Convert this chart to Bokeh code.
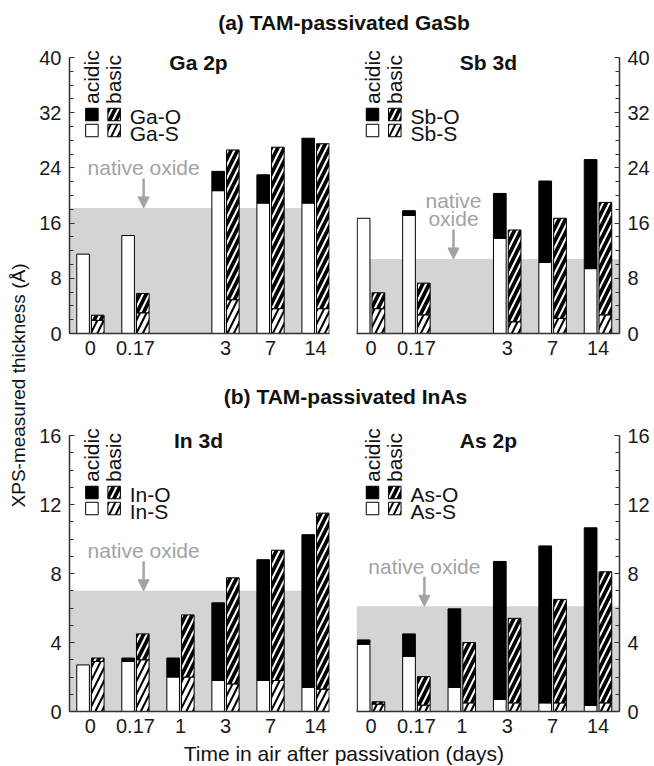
import math
from bokeh.plotting import figure
from bokeh.layouts import row, column
from bokeh.models import Range1d, FixedTicker, SingleIntervalTicker, Arrow, NormalHead
from bokeh.core.properties import value
from bokeh.embed import file_html
from bokeh.resources import INLINE

FONT = "Liberation Sans"
AXIS_COLOR = "#333333"
BAND_COLOR = "#d4d4d4"
NOTE_COLOR = "#a3a3a3"

# ---------------- data ----------------
days_inas = ["0", "0.17", "1", "3", "7", "14"]
days_gasb = ["0", "0.17", "3", "7", "14"]

# (a) GaSb, Ga 2p  (thickness in Angstrom)
ga_sulfide_acidic = [11.5, 14.2, 20.7, 18.9, 18.9]
ga_oxide_acidic = [0.0, 0.0, 2.8, 4.1, 9.4]
ga_sulfide_basic = [1.9, 3.0, 4.9, 3.6, 3.6]
ga_oxide_basic = [0.75, 2.8, 21.7, 23.4, 23.9]

# (a) GaSb, Sb 3d
sb_sulfide_acidic = [16.7, 17.1, 13.8, 10.3, 9.4]
sb_oxide_acidic = [0.0, 0.7, 6.5, 11.8, 15.8]
sb_sulfide_basic = [3.6, 2.7, 1.7, 2.2, 2.7]
sb_oxide_basic = [2.3, 4.6, 13.3, 14.5, 16.3]

# (b) InAs, In 3d
in_sulfide_acidic = [2.7, 2.9, 2.0, 1.8, 1.8, 1.4]
in_oxide_acidic = [0.0, 0.2, 1.1, 4.5, 7.0, 8.85]
in_sulfide_basic = [2.9, 3.0, 2.0, 1.6, 1.8, 1.3]
in_oxide_basic = [0.2, 1.5, 3.6, 6.15, 7.55, 10.2]

# (b) InAs, As 2p
as_sulfide_acidic = [3.9, 3.2, 1.4, 0.7, 0.5, 0.35]
as_oxide_acidic = [0.25, 1.3, 4.55, 8.0, 9.1, 10.3]
as_sulfide_basic = [0.43, 0.37, 0.5, 0.5, 0.5, 0.5]
as_oxide_basic = [0.13, 1.65, 3.5, 4.9, 6.0, 7.6]

# native oxide thickness of untreated surfaces
native_oxide = {"Ga": 18.2, "Sb": 10.8, "In": 7.0, "As": 6.1}

y_max_gasb, y_step_gasb = 40, 8
y_max_inas, y_step_inas = 16, 4

# ---------------- layout (pixels) ----------------
YLAB_W = 36
LEFT_W, RIGHT_W = 304, 313
COL_W = LEFT_W + RIGHT_W
TITLE_A_H, TOP_H, TITLE_B_H, BOT_H, XLAB_H = 44, 324, 50, 322, 25
TOTAL_H = TITLE_A_H + TOP_H + TITLE_B_H + BOT_H + XLAB_H
AXIS_SPAN_PX = 276.0       # pixels between 0 and the top tick

BAR_W = 0.28
BAR_OFF = 0.163
HATCH_SCALE = 13
HATCH_W = 2.0


def txt(p, x, y, s, size, color="#111111", bold=False, align="left", angle=0.0):
    p.text(x=[x], y=[y], text=[s], text_font=value(FONT),
           text_font_size=f"{size}px", text_color=color,
           text_font_style="bold" if bold else "normal",
           text_align=align, text_baseline="middle", angle=angle)


def blank(width, height):
    p = figure(width=width, height=height, x_range=Range1d(0, width),
               y_range=Range1d(0, height), x_axis_type=None, y_axis_type=None,
               toolbar_location=None, output_backend="svg",
               min_border=0, outline_line_color=None)
    p.grid.visible = False
    return p


def panel(side, days, ymax, step, s_ac, o_ac, s_ba, o_ba, element,
          native, height, band_stop=None, note_two_lines=False, title_dx=108.5):
    if side == "left":
        width, mbl, mbr, frame_w, slot0_px, ppx = LEFT_W, 32, 11, 261, 21.0, 45.2
    else:
        width, mbl, mbr, frame_w, slot0_px, ppx = RIGHT_W, 16, 34, 263, 14.5, 45.4
    bottom_border = 35 if height == TOP_H else 29
    frame_h = height - bottom_border
    x0 = -slot0_px / ppx
    x1 = x0 + frame_w / ppx
    ppu = AXIS_SPAN_PX / ymax
    y1 = frame_h / ppu
    p = figure(width=width, height=height, x_range=Range1d(x0, x1),
               y_range=Range1d(0, y1), y_axis_location=side,
               toolbar_location=None, output_backend="svg",
               min_border_left=mbl, min_border_right=mbr,
               min_border_top=0, min_border_bottom=bottom_border,
               outline_line_color=None)
    p.xgrid.visible = False
    p.ygrid.visible = False

    def X(dpx):
        return dpx / ppx

    def Ytop(dpx):
        return ymax - dpx / ppu

    slots = [days_inas.index(d) for d in days]

    # native-oxide band
    stop = x1 if band_stop is None else band_stop
    p.quad(left=[x0], right=[stop], bottom=[0], top=[native],
           fill_color=BAND_COLOR, line_color=None)

    # stacked bars
    def stack(xs, s, o, hatched):
        n = len(xs)
        kw_s = dict(fill_color="white", line_color="black", line_width=1)
        kw_o = dict(fill_color="black", line_color="black", line_width=1)
        if hatched:
            kw_s.update(hatch_pattern="/", hatch_color="black",
                        hatch_scale=HATCH_SCALE, hatch_weight=HATCH_W)
            kw_o.update(hatch_pattern="/", hatch_color="white",
                        hatch_scale=HATCH_SCALE, hatch_weight=HATCH_W)
        p.vbar(x=xs, width=BAR_W, bottom=[0] * n, top=s, **kw_s)
        idx = [i for i in range(n) if o[i] > 0]
        p.vbar(x=[xs[i] for i in idx], width=BAR_W,
               bottom=[s[i] for i in idx], top=[s[i] + o[i] for i in idx], **kw_o)

    stack([x - BAR_OFF for x in slots], s_ac, o_ac, False)
    stack([x + BAR_OFF for x in slots], s_ba, o_ba, True)

    # axes
    xa = p.xaxis[0]
    ya = p.yaxis[0]
    for ax in (xa, ya):
        ax.axis_line_color = AXIS_COLOR
        ax.axis_line_width = 1.5
        ax.major_label_text_font = FONT
        ax.major_label_text_font_size = "20px"
        ax.major_label_text_color = "#1a1a1a"
    xa.ticker = FixedTicker(ticks=slots)
    xa.major_label_overrides = {s: d for s, d in zip(slots, days)}
    xa.major_tick_line_color = None
    xa.minor_tick_line_color = None
    xa.major_tick_in = 0
    xa.major_tick_out = 0
    xa.major_label_standoff = 7
    ya.ticker = SingleIntervalTicker(interval=step, num_minor_ticks=4)
    ya.bounds = (0, ymax)
    ya.major_tick_in = 5
    ya.major_tick_out = 0
    ya.minor_tick_in = 4
    ya.minor_tick_out = 0
    ya.major_tick_line_color = AXIS_COLOR
    ya.minor_tick_line_color = AXIS_COLOR
    ya.major_tick_line_width = 1.2
    ya.minor_tick_line_width = 1.2
    ya.major_label_standoff = 8

    # panel title
    core = {"Ga": "Ga 2p", "Sb": "Sb 3d", "In": "In 3d", "As": "As 2p"}[element]
    txt(p, X(title_dx), Ytop(4.5), core, 21, bold=True, align="center")

    # custom legend
    txt(p, X(1.5), Ytop(46.5), "acidic", 21, angle=math.pi / 2)
    txt(p, X(23.5), Ytop(46.5), "basic", 21, angle=math.pi / 2)
    p.scatter(x=[X(1.5)], y=[Ytop(57)], marker="square", size=12.5,
              fill_color="black", line_color="black", line_width=1)
    p.scatter(x=[X(23.8)], y=[Ytop(57)], marker="square", size=12.5,
              fill_color="black", line_color="black", line_width=1,
              hatch_pattern="/", hatch_color="white", hatch_scale=HATCH_SCALE,
              hatch_weight=HATCH_W)
    p.scatter(x=[X(1.5)], y=[Ytop(73)], marker="square", size=12.5,
              fill_color="white", line_color="black", line_width=1)
    p.scatter(x=[X(23.8)], y=[Ytop(73)], marker="square", size=12.5,
              fill_color="white", line_color="black", line_width=1,
              hatch_pattern="/", hatch_color="black", hatch_scale=HATCH_SCALE,
              hatch_weight=HATCH_W)
    txt(p, X(39.5), Ytop(59), f"{element}-O", 21)
    txt(p, X(39.5), Ytop(75.5), f"{element}-S", 21)

    # native oxide note + arrow
    if note_two_lines:
        nx = X(82.5)
        txt(p, nx, native + 58.5 / ppu, "native", 21, color=NOTE_COLOR, align="center")
        txt(p, nx, native + 40.5 / ppu, "oxide", 21, color=NOTE_COLOR, align="center")
    else:
        nx = X(53.4)
        txt(p, nx, native + 40 / ppu, "native oxide", 21, color=NOTE_COLOR, align="center")
    p.add_layout(Arrow(x_start=nx, y_start=native + 29.5 / ppu, x_end=nx, y_end=native,
                       line_color=NOTE_COLOR, line_width=2.5,
                       end=NormalHead(size=11, fill_color=NOTE_COLOR, line_color=NOTE_COLOR)))
    return p


p_ga = panel("left", days_gasb, y_max_gasb, y_step_gasb, ga_sulfide_acidic, ga_oxide_acidic,
             ga_sulfide_basic, ga_oxide_basic, "Ga", native_oxide["Ga"], TOP_H,
             band_stop=4.69, title_dx=108.5)
p_sb = panel("right", days_gasb, y_max_gasb, y_step_gasb, sb_sulfide_acidic, sb_oxide_acidic,
             sb_sulfide_basic, sb_oxide_basic, "Sb", native_oxide["Sb"], TOP_H,
             note_two_lines=True, title_dx=117.4)
p_in = panel("left", days_inas, y_max_inas, y_step_inas, in_sulfide_acidic, in_oxide_acidic,
             in_sulfide_basic, in_oxide_basic, "In", native_oxide["In"], BOT_H,
             title_dx=108.5)
p_as = panel("right", days_inas, y_max_inas, y_step_inas, as_sulfide_acidic, as_oxide_acidic,
             as_sulfide_basic, as_oxide_basic, "As", native_oxide["As"], BOT_H,
             title_dx=117.4)

t_a = blank(COL_W, TITLE_A_H)
txt(t_a, 307.5, TITLE_A_H - 21.7, "(a) TAM-passivated GaSb", 21, bold=True, align="center")
t_b = blank(COL_W, TITLE_B_H)
txt(t_b, 309.0, TITLE_B_H - 28, "(b) TAM-passivated InAs", 21, bold=True, align="center")
t_x = blank(COL_W, XLAB_H)
txt(t_x, 307.3, XLAB_H - 12.5, "Time in air after passivation (days)", 21, align="center")
t_y = blank(YLAB_W, TOTAL_H)
txt(t_y, 18, TOTAL_H - 385, "XPS-measured thickness (\u00c5)", 19, align="center",
    angle=math.pi / 2)

layout = row(t_y, column(t_a, row(p_ga, p_sb), t_b, row(p_in, p_as), t_x))

open("out.html", "w").write(file_html(layout, INLINE))
